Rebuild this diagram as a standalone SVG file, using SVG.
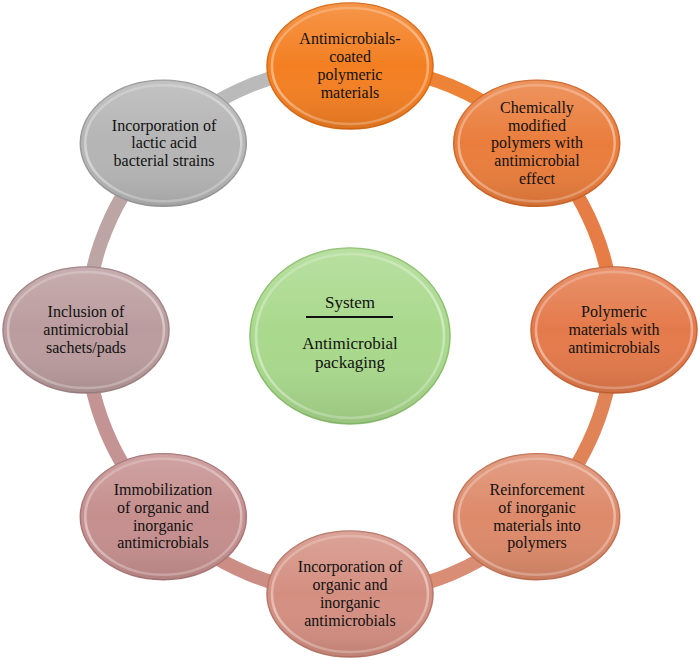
<svg xmlns="http://www.w3.org/2000/svg" width="700" height="660" viewBox="0 0 700 660">
<defs>
<style>
.ring{fill:none;stroke-width:14;stroke-linecap:butt}
.base{stroke-width:1.5}
.shade{fill:url(#shade)}
.bevel{fill:none;stroke:url(#bevel);stroke-width:2.5}
text{font-family:"Liberation Serif","Times New Roman",serif;font-size:16px;fill:#111;text-anchor:middle}
.big{font-size:17px}
</style>
<linearGradient id="shade" x1="0" y1="0" x2="0" y2="1">
<stop offset="0" stop-color="#fff" stop-opacity="0.18"/>
<stop offset="0.5" stop-color="#fff" stop-opacity="0"/>
<stop offset="1" stop-color="#000" stop-opacity="0.1"/>
</linearGradient>
<linearGradient id="bevel" x1="0" y1="0" x2="0.3" y2="1">
<stop offset="0" stop-color="#fff" stop-opacity="0.15"/>
<stop offset="0.6" stop-color="#fff" stop-opacity="0.45"/>
<stop offset="1" stop-color="#fff" stop-opacity="0.25"/>
</linearGradient>
</defs>
<rect width="700" height="660" fill="#fff"/>
<g id="connectors">
<path class="ring" stroke="#ec8336" d="M350 66 A264 264 0 0 1 536.7 143.3"/>
<path class="ring" stroke="#e67d46" d="M536.7 143.3 A264 264 0 0 1 614 330"/>
<path class="ring" stroke="#e08458" d="M614 330 A264 264 0 0 1 536.7 516.7"/>
<path class="ring" stroke="#d88d74" d="M536.7 516.7 A264 264 0 0 1 350 594"/>
<path class="ring" stroke="#cc8e84" d="M350 594 A264 264 0 0 1 163.3 516.7"/>
<path class="ring" stroke="#c49494" d="M163.3 516.7 A264 264 0 0 1 86 330"/>
<path class="ring" stroke="#bda5a6" d="M86 330 A264 264 0 0 1 163.3 143.3"/>
<path class="ring" stroke="#bababa" d="M163.3 143.3 A264 264 0 0 1 350 66"/>
</g>
<g id="node-center">
<ellipse class="base" cx="350" cy="336" rx="100" ry="88" fill="#a9d98c" stroke="#8cbf6f"/>
<ellipse class="shade" cx="350" cy="336" rx="100" ry="88"/>
<ellipse class="bevel" cx="350" cy="336" rx="94" ry="82"/>
<text class="big" x="350" y="308">System</text>
<line x1="306" y1="317" x2="393" y2="317" stroke="#111" stroke-width="2"/>
<text class="big"><tspan x="350" y="348.5">Antimicrobial</tspan><tspan x="350" y="367.5">packaging</tspan></text>
</g>
<g id="node-coated">
<ellipse class="base" cx="350" cy="66" rx="83" ry="63" fill="#f47f22" stroke="#d96a14"/>
<ellipse class="shade" cx="350" cy="66" rx="83" ry="63"/>
<ellipse class="bevel" cx="350" cy="66" rx="78" ry="58"/>
<text><tspan x="350" y="44.3">Antimicrobials-</tspan><tspan x="350" y="62.1">coated</tspan><tspan x="350" y="79.9">polymeric</tspan><tspan x="350" y="97.7">materials</tspan></text>
</g>
<g id="node-chemically">
<ellipse class="base" cx="536.7" cy="143.3" rx="83" ry="63" fill="#ea7d3c" stroke="#cf6628"/>
<ellipse class="shade" cx="536.7" cy="143.3" rx="83" ry="63"/>
<ellipse class="bevel" cx="536.7" cy="143.3" rx="78" ry="58"/>
<text><tspan x="537" y="112.7">Chemically</tspan><tspan x="537" y="130.5">modified</tspan><tspan x="537" y="148.3">polymers with</tspan><tspan x="537" y="166.1">antimicrobial</tspan><tspan x="537" y="183.9">effect</tspan></text>
</g>
<g id="node-polymeric">
<ellipse class="base" cx="614" cy="330" rx="83" ry="63" fill="#e47a4b" stroke="#c86538"/>
<ellipse class="shade" cx="614" cy="330" rx="83" ry="63"/>
<ellipse class="bevel" cx="614" cy="330" rx="78" ry="58"/>
<text><tspan x="614" y="317.2">Polymeric</tspan><tspan x="614" y="335">materials with</tspan><tspan x="614" y="352.8">antimicrobials</tspan></text>
</g>
<g id="node-reinforcement">
<ellipse class="base" cx="536.7" cy="516.7" rx="83" ry="63" fill="#dd8a6a" stroke="#c27254"/>
<ellipse class="shade" cx="536.7" cy="516.7" rx="83" ry="63"/>
<ellipse class="bevel" cx="536.7" cy="516.7" rx="78" ry="58"/>
<text><tspan x="537" y="495">Reinforcement</tspan><tspan x="537" y="512.8">of inorganic</tspan><tspan x="537" y="530.6">materials into</tspan><tspan x="537" y="548.4">polymers</tspan></text>
</g>
<g id="node-incorporation">
<ellipse class="base" cx="350" cy="594" rx="83" ry="63" fill="#d48f81" stroke="#b8766a"/>
<ellipse class="shade" cx="350" cy="594" rx="83" ry="63"/>
<ellipse class="bevel" cx="350" cy="594" rx="78" ry="58"/>
<text><tspan x="350" y="572.3">Incorporation of</tspan><tspan x="350" y="590.1">organic and</tspan><tspan x="350" y="607.9">inorganic</tspan><tspan x="350" y="625.7">antimicrobials</tspan></text>
</g>
<g id="node-immobilization">
<ellipse class="base" cx="163.3" cy="516.7" rx="83" ry="63" fill="#c58f8e" stroke="#a87676"/>
<ellipse class="shade" cx="163.3" cy="516.7" rx="83" ry="63"/>
<ellipse class="bevel" cx="163.3" cy="516.7" rx="78" ry="58"/>
<text><tspan x="163" y="495">Immobilization</tspan><tspan x="163" y="512.8">of organic and</tspan><tspan x="163" y="530.6">inorganic</tspan><tspan x="163" y="548.4">antimicrobials</tspan></text>
</g>
<g id="node-inclusion">
<ellipse class="base" cx="86" cy="330" rx="83" ry="63" fill="#bb9c9e" stroke="#9f8284"/>
<ellipse class="shade" cx="86" cy="330" rx="83" ry="63"/>
<ellipse class="bevel" cx="86" cy="330" rx="78" ry="58"/>
<text><tspan x="86" y="317.2">Inclusion of</tspan><tspan x="86" y="335">antimicrobial</tspan><tspan x="86" y="352.8">sachets/pads</tspan></text>
</g>
<g id="node-lactic">
<ellipse class="base" cx="163.3" cy="143.3" rx="83" ry="63" fill="#b5b5b5" stroke="#999"/>
<ellipse class="shade" cx="163.3" cy="143.3" rx="83" ry="63"/>
<ellipse class="bevel" cx="163.3" cy="143.3" rx="78" ry="58"/>
<text><tspan x="164" y="130.5">Incorporation of</tspan><tspan x="164" y="148.3">lactic acid</tspan><tspan x="164" y="166.1">bacterial strains</tspan></text>
</g>
</svg>
